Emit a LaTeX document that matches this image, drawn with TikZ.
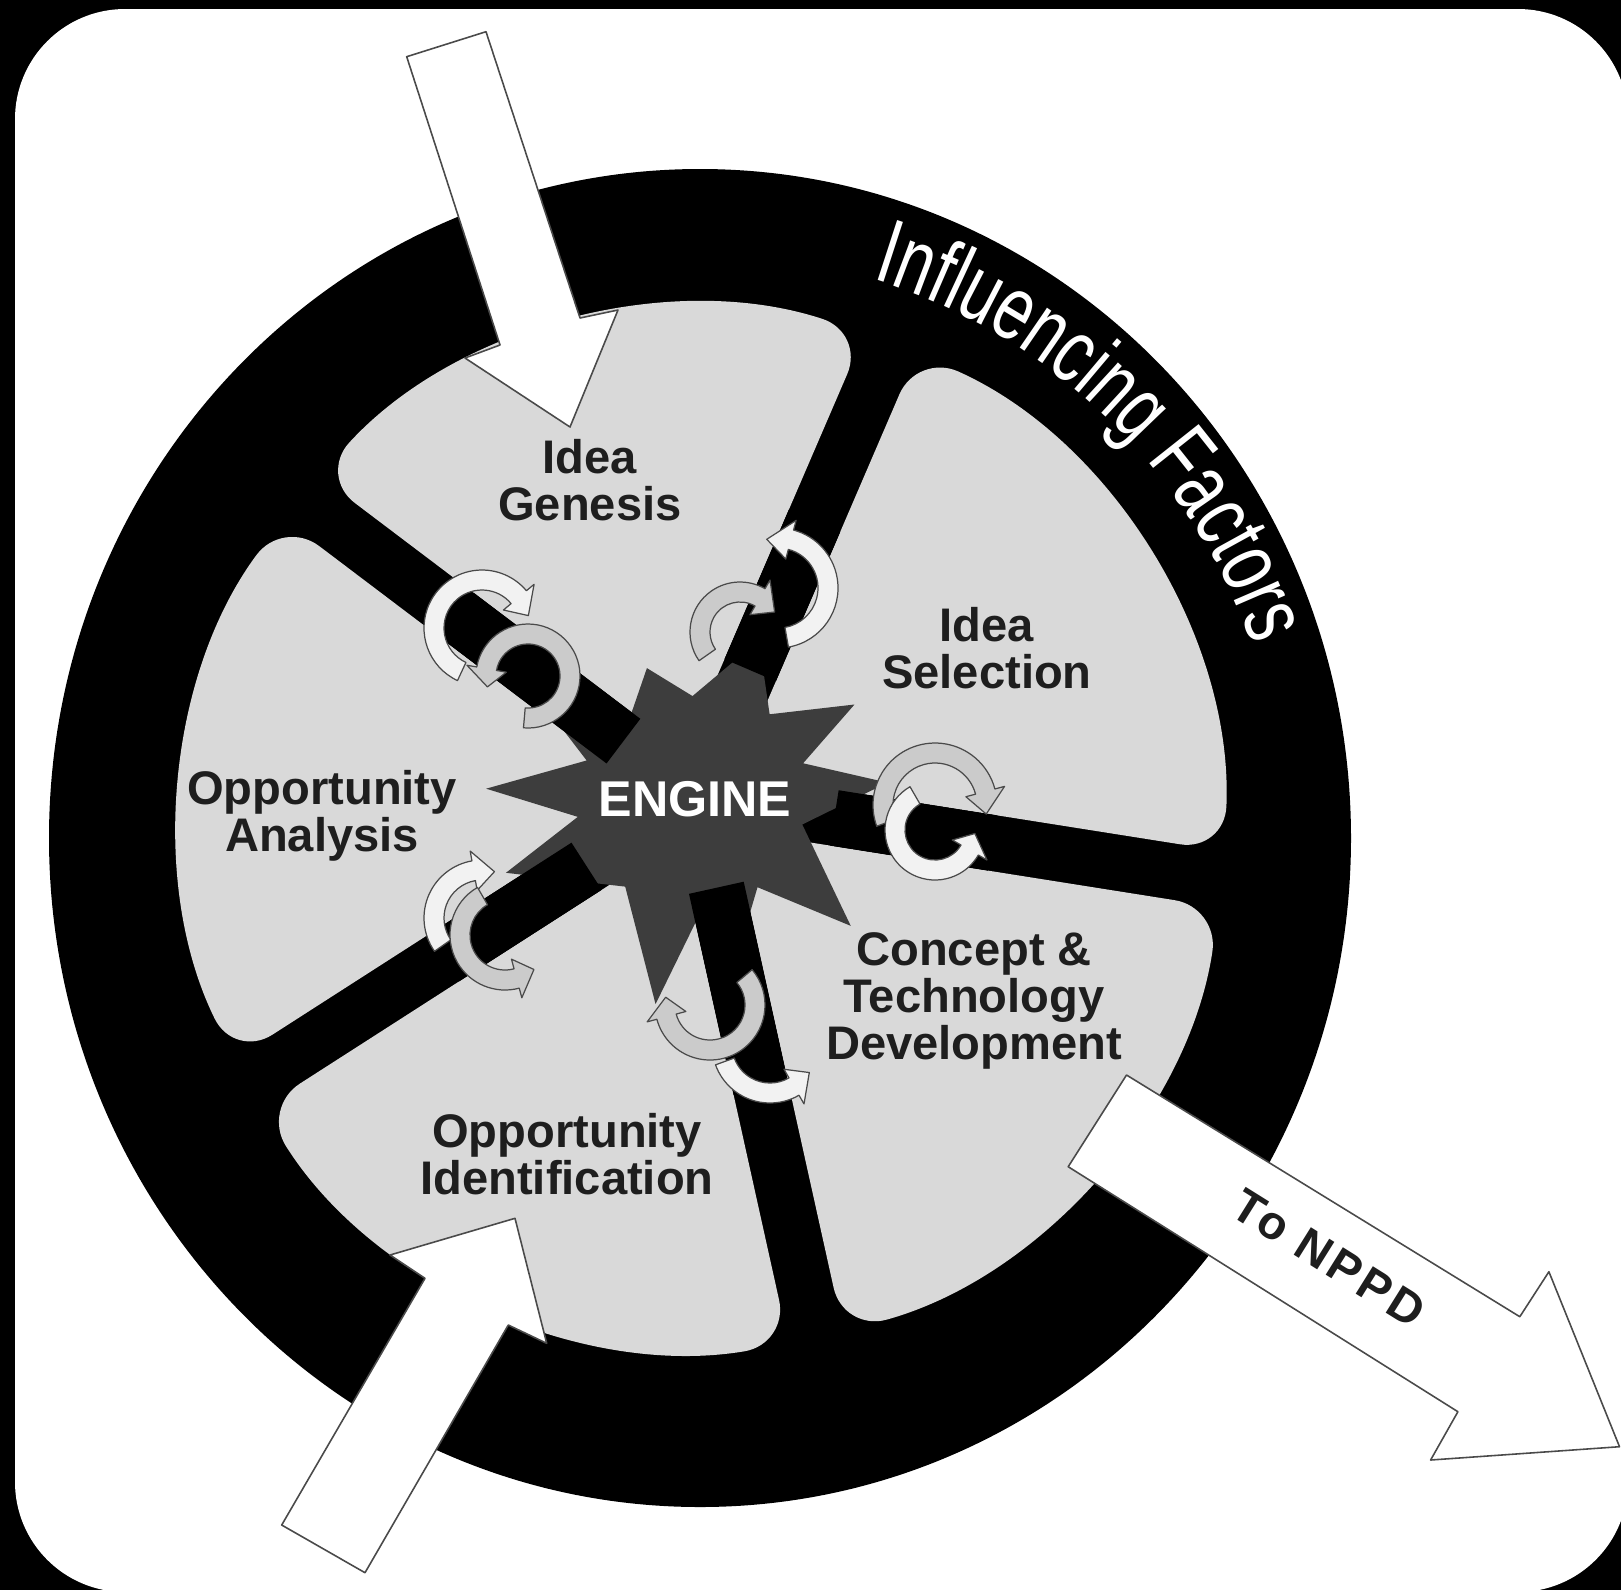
\documentclass[tikz,border=0pt]{standalone}
\usepackage{fontspec}
\setmainfont{Liberation Sans}
\newfontfamily\narrowfont[FakeStretch=0.71]{Liberation Sans}
\usetikzlibrary{decorations.text}
\definecolor{sectorgray}{HTML}{D9D9D9}
\definecolor{stargray}{HTML}{3D3D3D}
\definecolor{outline}{HTML}{4A4A4A}
\definecolor{labelcol}{HTML}{1E1E1E}
\definecolor{loopfront}{HTML}{F2F2F2}
\definecolor{loopback}{HTML}{CBCBCB}
% #1 centre, #2 radius, #3 start angle, #4 end angle, #5 head offset, #6 fill
\newcommand\looparrow[6]{%
  \begin{scope}[shift={(#1)}]
  \filldraw[fill=#6, draw=outline, line width=0.35pt, line join=round]
    ({#3}:{#2+10}) arc[start angle={#3}, end angle={#4}, radius={#2+10}]
    -- ({#4}:{#2+20}) -- ({#4+#5}:{#2}) -- ({#4}:{#2-20}) -- ({#4}:{#2-10})
    arc[start angle={#4}, end angle={#3}, radius={#2-10}] -- cycle;
  \end{scope}}
\begin{document}
\begin{tikzpicture}[x=0.01cm, y=-0.01cm,
  sector/.style={fill=sectorgray, rounded corners=0.45cm},
  spokebar/.style={draw=black, line width=0.56cm},
  lbl/.style={font=\fontsize{13.4}{13.4}\selectfont\bfseries, text=labelcol, align=center, inner sep=0pt},
  engine/.style={font=\fontsize{14.3}{14.3}\selectfont\bfseries, text=white, inner sep=0pt},
  bigarrow/.style={fill=white, draw=outline, line width=0.45pt, line join=round}]
\useasboundingbox (0,0) rectangle (1621,1590);
\fill[black] (0,0) rectangle (1621,1590);
\fill[white, rounded corners=1.1cm] (15,9) rectangle (1628,1592);

% ring
\fill[black] (700,838) ellipse [x radius=651, y radius=669];

% gray sectors
\fill[sector] (732.2,830.1) -- (1219.1,907.2) arc[start angle=8.62, end angle=74.4, radius=522] -- cycle;
\fill[sector] (677.4,841.3) -- (788.8,1343.9) arc[start angle=80.54, end angle=147.69, radius=522] -- cycle;
\fill[sector] (647.1,794.1) -- (234.5,1059.0) arc[start angle=153.85, end angle=216.45, radius=522] -- cycle;
\fill[sector] (684.4,752.1) -- (318.8,475.7) arc[start angle=222.6, end angle=288.08, radius=522] -- cycle;
\fill[sector] (736.0,774.0) -- (917.2,353.0) arc[start angle=294.23, end angle=362.45, radius=522] -- cycle;

% star and spokes
\coordinate (hub) at (696,796);
\begin{scope}[shift={(hub)}]
\fill[stargray] (15:110) -- (40:202) -- (56:110) -- (72:150) -- (86:110)
  -- (101:212) -- (128:115) -- (158:205) -- (170:120) -- (182:210) -- (198:115)
  -- (213:195) -- (232:105) -- (249:137) -- (268:100) -- (292:168) -- (312:110)
  -- (330:183) -- (343:112) -- (356:192) -- cycle;
\draw[spokebar] (9:140) -- (9:300);
\draw[spokebar] (77.5:94) -- (77.5:300);
\draw[spokebar] (147.3:130) -- (147.3:300);
\draw[spokebar] (217.1:91) -- (217.1:300);
\draw[spokebar] (293.3:137) -- (293.3:300);
\end{scope}

% circular arrows round the spokes
\looparrow{482,628}{48}{115}{320}{25}{loopfront}
\looparrow{528,676}{42}{95}{-170}{-25}{loopback}
\looparrow{778,588}{50}{80}{-75}{-28}{loopfront}
\looparrow{740,632}{40}{145}{300}{30}{loopback}
\looparrow{935,805}{52}{160}{345}{25}{loopback}
\looparrow{935,830}{40}{240}{30}{-25}{loopfront}
\looparrow{710,1005}{45}{-40}{165}{25}{loopback}
\looparrow{770,1045}{48}{160}{60}{-25}{loopfront}
\looparrow{482,918}{48}{145}{260}{25}{loopfront}
\looparrow{505,935}{45}{240}{75}{-25}{loopback}

% labels
\node[lbl] (genesis) at (590,480) {Idea\\Genesis};
\node[lbl] (selection) at (987,648) {Idea\\Selection};
\node[lbl] (analysis) at (322,816) {Opportunity\\Analysis};
\node[lbl] (concept) at (974,1001) {Concept \&\\Technology\\Development};
\node[lbl] (identification) at (567,1154) {Opportunity\\Identification};
\node[engine] (engine) at (695,799) {ENGINE};

% big block arrows
\filldraw[bigarrow] (406.7,56.7) -- (486,31.7) -- (580,318) -- (618,310) -- (570,427)
  -- (465,358) -- (500,345) -- cycle;
\filldraw[bigarrow] (281.7,1525) -- (425,1278.3) -- (390,1255) -- (515,1218.3)
  -- (546.7,1343.3) -- (508.3,1325) -- (365,1572.7) -- cycle;
\filldraw[bigarrow] (1126.5,1075) -- (1519.8,1316.7) -- (1548.9,1271.7) -- (1619.5,1446.7)
  -- (1430.6,1460) -- (1457.9,1411.7) -- (1068.2,1166.7) -- cycle;
\node[font=\fontsize{13.4}{13.4}\selectfont\bfseries\addfontfeature{LetterSpace=8}, text=labelcol,
  rotate=-32, inner sep=0pt] (nppd) at (1329,1258) {To NPPD};

% ring text
\path[decorate, decoration={text along path, text align=center,
  text={|\narrowfont\fontsize{26}{26}\selectfont\color{white}|Influencing Factors}}]
  (700,838) ++(274:585) arc[start angle=274, end angle=354, radius=585];
\end{tikzpicture}
\end{document}
